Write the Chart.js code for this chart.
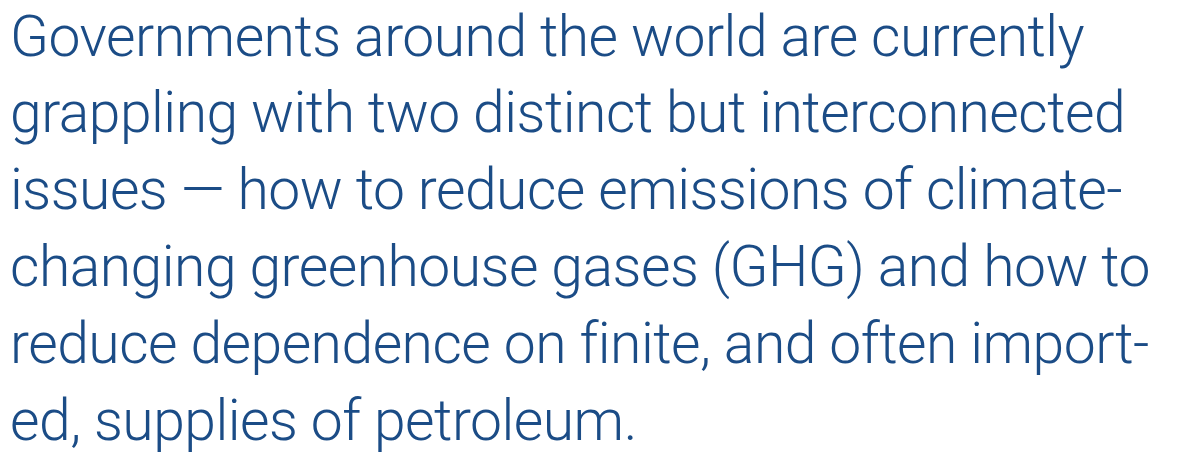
<!DOCTYPE html>
<html>
<head>
<meta charset="utf-8">
<script src="https://cdn.jsdelivr.net/npm/chart.js@4/dist/chart.umd.min.js"></script>
<style>
  html, body { margin: 0; padding: 0; background: #ffffff; }
  #wrap { width: 1184px; height: 452px; }
</style>
</head>
<body>
<div id="wrap"><canvas id="textChart"></canvas></div>
<script>
// The paragraph, one entry per printed line
const textLines = [
    'Governments around the world are currently',
    'grappling with two distinct but interconnected',
    'issues \u2014 how to reduce emissions of climate-',
    'changing greenhouse gases (GHG) and how to',
    'reduce dependence on finite, and often import-',
    'ed, supplies of petroleum.'
];
const textColor = '#1b4c86';

// Tighten the letters a little so the lines run as wide as in the print
const tightText = {
    id: 'tightText',
    beforeDraw(chart) {
        chart.ctx.letterSpacing = '-0.5px';
    }
};

new Chart(document.getElementById('textChart'), {
    type: 'bar',
    data: { labels: [], datasets: [] },
    plugins: [tightText],
    options: {
        responsive: true,
        maintainAspectRatio: false,
        animation: false,
        events: [],
        layout: { padding: { left: 10, right: 0, top: 0, bottom: 0 } },
        scales: {
            x: { display: false },
            y: { display: false }
        },
        plugins: {
            legend: { display: false },
            tooltip: { enabled: false },
            title: {
                display: true,
                text: textLines,
                align: 'start',
                color: textColor,
                padding: { top: 3, bottom: 0 },
                font: { family: 'Roboto', weight: 300, size: 57, lineHeight: 1.347 }
            }
        }
    }
});
</script>
</body>
</html>
